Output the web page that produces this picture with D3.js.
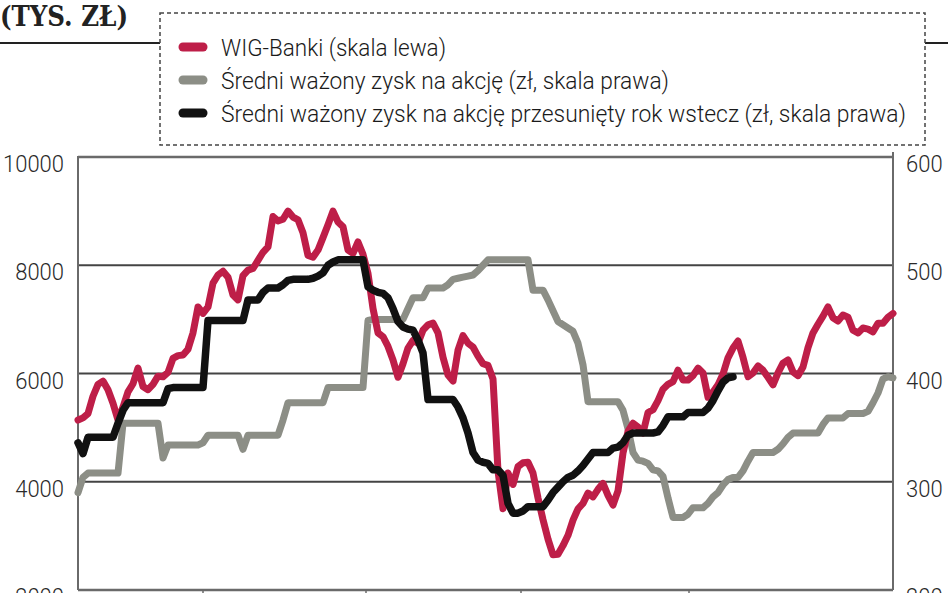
<!DOCTYPE html>
<html><head><meta charset="utf-8">
<script src="https://cdn.jsdelivr.net/npm/d3@7"></script>
<style>html,body{margin:0;padding:0;background:#fff;overflow:hidden}</style>
</head><body>
<svg id="c" width="948" height="593"></svg>
<script>
// WIG-Banki (left scale), sampled at uniform time steps
const wigBanki = [
5140,5180,5260,5580,5800,5860,5700,5450,5140,5380,
5660,5810,6100,5760,5700,5800,5950,5940,6020,6280,
6330,6340,6450,6750,7230,7110,7230,7670,7820,7890,
7780,7450,7360,7810,7910,7940,8090,8240,8340,8900,
8820,8850,9000,8890,8840,8600,8180,8150,8280,8510,
8750,9000,8800,8710,8280,8220,8430,8200,7850,7200,
6750,6680,6500,6250,5930,6180,6470,6610,6560,6800,
6900,6930,6750,6300,5970,5860,6430,6700,6560,6490,
6320,6180,6150,5900,4200,3500,4160,3950,4280,4350,
4360,4160,3700,3300,2940,2650,2660,2820,3010,3290,
3500,3600,3790,3720,3860,3970,3750,3570,3830,4530,
4930,5080,5010,4900,5280,5330,5500,5710,5800,5850,
6060,5880,5880,5960,6100,6010,5560,5660,5790,5990,
6290,6470,6600,6300,5940,6010,6140,6060,5930,5790,
6010,6190,6250,6030,5960,6120,6480,6750,6910,7060,
7230,7030,6970,7080,7040,6800,6750,6840,6820,6770,
6930,6930,7040,7110];
// Weighted average EPS (right scale)
const eps = [
290,304,308,308,308,308,308,308,308,354,
354,354,354,354,354,354,354,322,334,334,
334,334,334,334,334,336,343,343,343,343,
343,343,343,330,343,343,343,343,343,343,
343,357,373,373,373,373,373,373,373,373,
387,387,387,387,387,387,387,387,449,450,
450,450,450,450,450,450,460,470,470,470,
479,479,479,479,482,487,488,489,490,491,
495,500,505,505,505,505,505,505,505,505,
505,477,477,477,468,458,448,445,442,439,
428,408,374,374,374,374,374,374,374,366,
349,327,320,319,317,311,310,305,285,267,
267,267,270,276,276,276,280,286,290,297,
302,304,304,310,319,327,327,327,327,327,
330,335,341,345,345,345,345,345,345,353,
359,359,359,359,363,363,363,363,365,373,
382,395,397,396];
// Weighted average EPS shifted one year back (right scale)
const epsShifted = [
336,326,341,341,341,341,341,341,354,366,
373,373,373,373,373,373,373,373,386,387,
387,387,387,387,387,387,449,449,449,449,
449,449,449,449,468,468,468,475,479,479,
479,482,486,487,487,487,487,488,490,493,
500,503,505,505,505,505,505,505,480,477,
475,474,470,460,448,443,441,440,431,419,
376,376,376,376,376,376,369,359,345,327,
320,318,317,311,311,306,280,271,271,273,
277,277,277,277,283,290,295,300,304,306,
310,315,321,327,327,327,327,331,332,336,
343,345,345,345,345,345,346,352,360,360,
360,360,364,364,364,364,368,375,384,392,
396,397];

const leftTicks = [2000,4000,6000,8000,10000];
const rightTicks = [200,300,400,500,600];
const yearTicks = [25,57.6,88.6,122.2];
const legendLabels = [
  "WIG-Banki (skala lewa)",
  "Średni ważony zysk na akcję (zł, skala prawa)",
  "Średni ważony zysk na akcję przesunięty rok wstecz (zł, skala prawa)"
];
const legendWidths = [225,448,685];
const colors = ["#be1e48","#8c8e86","#111111"];
const title = "(TYS. ZŁ)";

const svg = d3.select("#c");
const L=78, R=893, T=157, B=590;
const x = d3.scaleLinear().domain([0, wigBanki.length-1]).range([L,R]);
const yL = d3.scaleLinear().domain([2000,10000]).range([B,T]);
const yR = d3.scaleLinear().domain([200,600]).range([B,T]);

// title
svg.append("text").attr("x",0).attr("y",26).attr("textLength",128).attr("lengthAdjust","spacingAndGlyphs")
  .style("font-family","'DejaVu Serif',serif").style("font-weight","bold").style("font-size","27px").attr("fill","#222").text(title);

// top rule and legend box
svg.append("line").attr("x1",0).attr("x2",160).attr("y1",43).attr("y2",43).attr("stroke","#222").attr("stroke-width",2);
svg.append("line").attr("x1",925).attr("x2",948).attr("y1",43).attr("y2",43).attr("stroke","#222").attr("stroke-width",2);
svg.append("rect").attr("x",160).attr("y",13).attr("width",765).attr("height",132)
  .attr("fill","none").attr("stroke","#444").attr("stroke-width",1.5).attr("stroke-dasharray","4,3");
const lg = svg.append("g");
legendLabels.forEach((t,i)=>{
  const yy = 47 + i*33;
  lg.append("line").attr("x1",183).attr("x2",203).attr("y1",yy).attr("y2",yy)
    .attr("stroke",colors[i]).attr("stroke-width",9).attr("stroke-linecap","round");
  lg.append("text").attr("x",221).attr("y",yy+9).attr("textLength",legendWidths[i]).attr("lengthAdjust","spacingAndGlyphs")
    .style("font-family","Roboto,sans-serif").style("font-weight","300").style("font-size","24px").attr("fill","#1a1a1a").text(t);
});

// grid
svg.append("g").selectAll("line").data(leftTicks).join("line")
  .attr("x1",L).attr("x2",R).attr("y1",d=>yL(d)).attr("y2",d=>yL(d))
  .attr("stroke",d=>(d===10000||d===2000)?"#6a6a6a":"#444").attr("stroke-width",d=>(d===10000||d===2000)?2.5:2);
svg.append("line").attr("x1",L).attr("x2",L).attr("y1",T-1).attr("y2",B).attr("stroke","#6a6a6a").attr("stroke-width",2);
svg.append("line").attr("x1",R).attr("x2",R).attr("y1",T-5).attr("y2",B).attr("stroke","#6a6a6a").attr("stroke-width",2);
// bottom ticks
svg.append("g").selectAll("line").data(yearTicks).join("line")
  .attr("x1",d=>x(d)).attr("x2",d=>x(d)).attr("y1",B).attr("y2",B+6).attr("stroke","#6a6a6a").attr("stroke-width",1.5);

// axis labels
const lab = (g)=>g.style("font-family","Roboto,sans-serif").style("font-weight","300").style("font-size","24px").attr("fill","#2a2a2a");
svg.append("g").selectAll("text").data(leftTicks).join("text")
  .attr("x",64).attr("y",d=>yL(d)+15).attr("text-anchor","end")
  .attr("textLength",d=>String(d).length*12.2).attr("lengthAdjust","spacingAndGlyphs")
  .call(lab).text(d=>d);
svg.append("g").selectAll("text").data(rightTicks).join("text")
  .attr("x",906).attr("y",d=>yR(d)+15)
  .attr("textLength",d=>String(d).length*12.2).attr("lengthAdjust","spacingAndGlyphs")
  .call(lab).text(d=>d);

// series
const lineL = d3.line().x((d,i)=>x(i)).y(d=>yL(d));
const lineR = d3.line().x((d,i)=>x(i)).y(d=>yR(d));
svg.append("path").datum(eps).attr("d",lineR).attr("fill","none").attr("stroke",colors[1])
  .attr("stroke-width",7).attr("stroke-linejoin","round").attr("stroke-linecap","round");
svg.append("path").datum(wigBanki).attr("d",lineL).attr("fill","none").attr("stroke",colors[0])
  .attr("stroke-width",7).attr("stroke-linejoin","round").attr("stroke-linecap","round");
svg.append("path").datum(epsShifted).attr("d",lineR).attr("fill","none").attr("stroke",colors[2])
  .attr("stroke-width",7.5).attr("stroke-linejoin","round").attr("stroke-linecap","round");
</script>
</body></html>
